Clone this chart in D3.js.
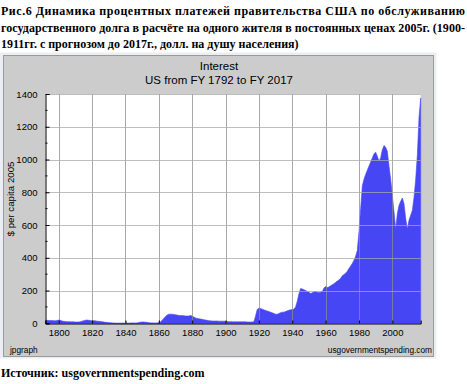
<!DOCTYPE html>
<html><head><meta charset="utf-8">
<script src="https://cdn.jsdelivr.net/npm/d3@7"></script>
<style>html,body{margin:0;padding:0;background:#fff;}svg{display:block;}</style>
</head><body>
<script>
const headerLines = [
  "Рис.6 Динамика процентных платежей правительства США по обслуживанию",
  "государственного долга в расчёте на одного жителя в постоянных ценах 2005г. (1900-",
  "1911гг. с прогнозом до 2017г., долл. на душу населения)"
];
const sourceText = "Источник: usgovernmentspending.com";
const chartTitle = "Interest";
const chartSubtitle = "US from FY 1792 to FY 2017";
const yAxisLabel = "$ per capita 2005";
const firstYear = 1792;
// interest per capita, 2005 dollars, FY1792..FY2017
const values = [
  16,18,17,17,17,16,16,17,
  20,18,14,12,11,10,10,9,9,9,
  8,8,8,10,13,16,19,20,18,17,
  16,16,15,13,12,11,10,8,6,5,
  4,3,2,1,0,0,0,0,0,0,
  0,0,0,1,2,1,1,2,5,7,
  8,8,7,6,3,2,2,1,1,2,
  3,8,18,30,42,50,55,56,55,54,
  52,50,48,47,47,46,45,44,45,47,
  44,38,33,30,28,26,24,22,20,18,
  16,15,14,14,14,14,13,13,13,13,
  12,11,10,10,10,9,9,9,9,9,
  9,9,9,8,8,8,8,10,45,85,
  92,90,86,82,78,75,72,68,64,60,
  56,55,60,65,68,68,72,76,80,82,
  84,86,100,135,180,212,210,205,200,195,
  190,182,186,192,194,190,188,190,194,215,
  225,218,222,230,236,242,250,258,265,275,
  290,298,305,318,335,350,365,385,410,445,
  560,700,840,880,910,935,960,985,1010,1035,
  1045,1020,990,1010,1060,1085,1075,1050,960,880,
  780,680,575,670,720,745,765,730,640,575,
  630,660,690,770,880,1030,1260,1375
];
const xTicks = [1800,1820,1840,1860,1880,1900,1920,1940,1960,1980,2000];
const yTicks = [0,200,400,600,800,1000,1200,1400];
const yMinorTicks = [100,300,500,700,900,1100,1300];

const data = values.map((v,i)=>({year:firstYear+i, value:v}));

const W=467,H=384;
const svg=d3.select("body").append("svg").attr("width",W).attr("height",H);

// header
const hdr = svg.append("g").attr("font-family","'Liberation Serif','Times New Roman',serif")
  .attr("font-weight","bold").attr("font-size",12).attr("fill","#000");
const hdrY=[15,31.5,47.5];
headerLines.forEach((t,i)=>{
  const el=hdr.append("text").attr("x",1).attr("y",hdrY[i]).text(t);
  if(i<2) el.attr("textLength",464).attr("lengthAdjust","spacing");
});

// outer frame & panel
svg.append("rect").attr("x",0).attr("y",52.5).attr("width",436.5).attr("height",306).attr("fill","#eceef4");
svg.append("rect").attr("x",3.5).attr("y",55.5).attr("width",430).attr("height",301)
  .attr("fill","#cccccc").attr("stroke","#9a9a9a").attr("stroke-width",1);

const x=d3.scaleLinear().domain([1792,2017]).range([45.4,420.7]);
const y=d3.scaleLinear().domain([0,1400]).range([323.3,94]);

// plot background
svg.append("rect").attr("x",x(1792)).attr("y",y(1400)).attr("width",x(2017)-x(1792)).attr("height",y(0)-y(1400)).attr("fill","#fff");

// area
const area=d3.area().x(d=>x(d.year)).y0(y(0)).y1(d=>y(d.value)).curve(d3.curveLinear);
svg.append("path").datum(data).attr("d",area).attr("fill","#4646f4").attr("stroke","#4646f4").attr("stroke-width",0.6);

// grid
const grid=svg.append("g");
grid.selectAll("line.v").data(xTicks).join("line")
  .attr("x1",d=>Math.round(x(d))+0.5).attr("x2",d=>Math.round(x(d))+0.5)
  .attr("y1",y(1400)).attr("y2",y(0)).attr("stroke","#8c8c8c").attr("stroke-opacity",0.75);
grid.selectAll("line.h").data(yTicks.filter(d=>d>0)).join("line")
  .attr("x1",x(1792)).attr("x2",x(2017))
  .attr("y1",d=>Math.round(y(d))+0.5).attr("y2",d=>Math.round(y(d))+0.5)
  .attr("stroke","#a8a8a8").attr("stroke-opacity",0.75);

// axes
const font="'Liberation Sans',Arial,sans-serif";
const yAxis=d3.axisLeft(y).tickValues(yTicks).tickSize(-4).tickPadding(8).tickFormat(d3.format("d"));
const gy=svg.append("g").attr("transform",`translate(${Math.round(x(1792))+0.5},0)`).call(yAxis);
gy.select(".domain").attr("stroke","#000");
gy.selectAll(".tick line").attr("stroke","#000");
gy.selectAll("text").attr("font-family",font).attr("font-size",9.5).attr("fill","#000");
gy.selectAll(".minor").data(yMinorTicks).join("line").attr("class","minor")
  .attr("x1",0).attr("x2",2).attr("y1",d=>y(d)).attr("y2",d=>y(d)).attr("stroke","#000");

const xAxis=d3.axisBottom(x).tickValues(xTicks).tickSize(-3).tickPadding(6).tickFormat(d3.format("d"));
const gx=svg.append("g").attr("transform",`translate(0,${Math.round(y(0))+0.5})`).call(xAxis);
gx.select(".domain").attr("stroke","#000");
gx.selectAll(".tick line").attr("stroke","#000");
gx.selectAll("text").attr("font-family",font).attr("font-size",9.5).attr("fill","#000");

// titles
svg.append("text").attr("x",219).attr("y",69.5).attr("text-anchor","middle")
  .attr("font-family",font).attr("font-size",11.5).attr("fill","#000").text(chartTitle);
svg.append("text").attr("x",219).attr("y",84).attr("text-anchor","middle")
  .attr("font-family",font).attr("font-size",11.5).attr("fill","#000").text(chartSubtitle);
svg.append("text").attr("transform","translate(14,199) rotate(-90)").attr("text-anchor","middle")
  .attr("font-family",font).attr("font-size",9.7).attr("fill","#000").text(yAxisLabel);
svg.append("text").attr("x",10).attr("y",352.5).attr("font-family",font).attr("font-size",8.3).attr("fill","#000").text("jpgraph");
svg.append("text").attr("x",432).attr("y",352.5).attr("text-anchor","end").attr("font-family",font).attr("font-size",8.3).attr("fill","#000").text("usgovernmentspending.com");

// source
svg.append("text").attr("x",1).attr("y",377).attr("font-family","'Liberation Serif','Times New Roman',serif")
  .attr("font-weight","bold").attr("font-size",12).attr("fill","#000").text(sourceText);
</script>
</body></html>
